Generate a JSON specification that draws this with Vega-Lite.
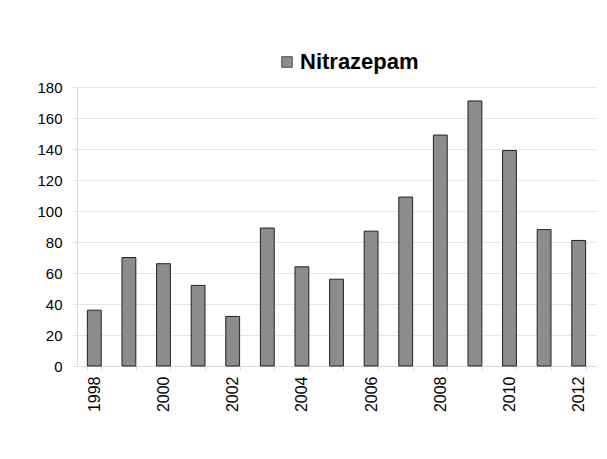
{
  "$schema": "https://vega.github.io/schema/vega-lite/v6.json",
  "autosize": {"type": "none"},
  "padding": {"left": 77, "top": 87, "right": 11, "bottom": 93},
  "width": 519,
  "height": 279,
  "background": "white",
  "data": {
    "values": [
      {"year": "1998", "count": 36, "series": "Nitrazepam"},
      {"year": "1999", "count": 70, "series": "Nitrazepam"},
      {"year": "2000", "count": 66, "series": "Nitrazepam"},
      {"year": "2001", "count": 52, "series": "Nitrazepam"},
      {"year": "2002", "count": 32, "series": "Nitrazepam"},
      {"year": "2003", "count": 89, "series": "Nitrazepam"},
      {"year": "2004", "count": 64, "series": "Nitrazepam"},
      {"year": "2005", "count": 56, "series": "Nitrazepam"},
      {"year": "2006", "count": 87, "series": "Nitrazepam"},
      {"year": "2007", "count": 109, "series": "Nitrazepam"},
      {"year": "2008", "count": 149, "series": "Nitrazepam"},
      {"year": "2009", "count": 171, "series": "Nitrazepam"},
      {"year": "2010", "count": 139, "series": "Nitrazepam"},
      {"year": "2011", "count": 88, "series": "Nitrazepam"},
      {"year": "2012", "count": 81, "series": "Nitrazepam"}
    ]
  },
  "mark": {"type": "bar", "stroke": "#222222", "strokeWidth": 1},
  "encoding": {
    "x": {
      "field": "year",
      "type": "ordinal",
      "scale": {"paddingInner": 0.6, "paddingOuter": 0.3},
      "axis": {
        "title": null,
        "labelAngle": -90,
        "labelAlign": "right",
        "labelBaseline": "middle",
        "labelExpr": "toNumber(datum.value) % 2 == 0 ? datum.value : ''",
        "labelFont": "Liberation Sans",
        "labelFontSize": 16,
        "labelColor": "#000000",
        "labelPadding": 6,
        "tickBand": "extent",
        "tickSize": 4,
        "tickColor": "#d9d9d9",
        "domainColor": "#d9d9d9",
        "grid": false
      }
    },
    "y": {
      "field": "count",
      "type": "quantitative",
      "scale": {"domain": [0, 180], "nice": false},
      "axis": {
        "title": null,
        "values": [0, 20, 40, 60, 80, 100, 120, 140, 160, 180],
        "labelFont": "Liberation Sans",
        "labelFontSize": 15,
        "labelColor": "#000000",
        "labelPadding": 10,
        "tickSize": 5,
        "tickColor": "#e6e6e6",
        "domainColor": "#d9d9d9",
        "gridColor": "#e6e6e6"
      }
    },
    "fill": {
      "field": "series",
      "type": "nominal",
      "scale": {"range": ["#8c8c8c"]},
      "legend": {
        "title": null,
        "orient": "none",
        "legendX": 199,
        "legendY": -36,
        "symbolType": "square",
        "symbolSize": 110,
        "symbolStrokeColor": "#444444",
        "symbolStrokeWidth": 1,
        "labelFont": "Liberation Sans",
        "labelFontSize": 22,
        "labelFontWeight": "bold",
        "labelColor": "#000000",
        "labelOffset": 2
      }
    }
  },
  "config": {
    "view": {"stroke": null},
    "font": "Liberation Sans"
  }
}
